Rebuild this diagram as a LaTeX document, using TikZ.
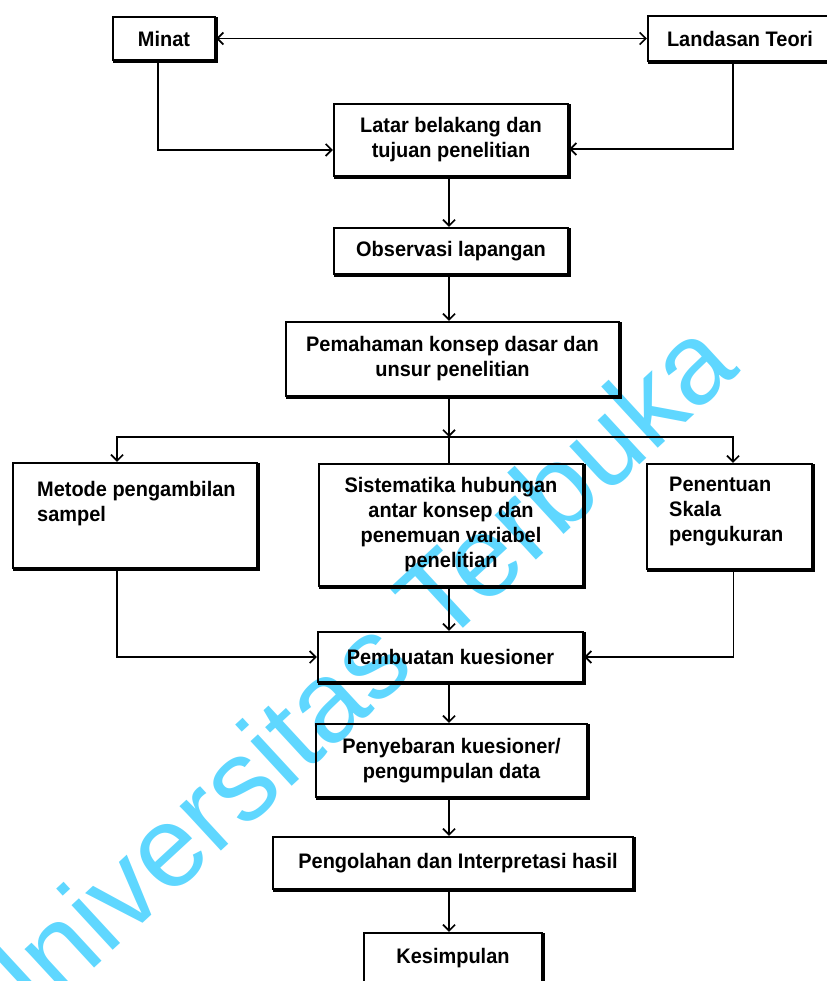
\documentclass[tikz,border=0pt]{standalone}
\usepackage{fontspec}
\setmainfont{Liberation Sans}
\newfontfamily\boxfont{Liberation Sans Bold}[FakeStretch=0.95]
\usetikzlibrary{arrows.meta}
\definecolor{wmblue}{RGB}{95,215,255}

\begin{document}
\begin{tikzpicture}[x=1pt,y=-1pt,
  box/.style={draw, line width=2.2pt, inner sep=0pt, align=center,
    font=\boxfont\fontsize{21}{25}\selectfont},
  txt/.style={inner sep=0pt, align=left, font=\boxfont\fontsize{21}{25}\selectfont},
  edge/.style={draw, line width=1.7pt},
  arr/.style={edge, -{Straight Barb[length=6pt,width=12pt,line width=1.7pt]}},
  dbl/.style={edge, {Straight Barb[length=6pt,width=12pt,line width=1.7pt]}-{Straight Barb[length=6pt,width=12pt,line width=1.7pt]}},
  shade/.style={line width=2pt}
]
\useasboundingbox (0,0) rectangle (826,981);

% watermark behind the chart
\node[font=\fontsize{115}{115}\selectfont, text=wmblue, rotate=42.7, anchor=base, inner sep=0pt]
  (wm) at (371,713) {Universitas Terbuka};

% boxes
\node[box, minimum width=102pt, minimum height=43pt] (minat) at (164,38.5) {Minat};
\node[box, minimum width=190pt, minimum height=45pt] (landasan) at (743,38.5) {\hspace*{-6pt}Landasan Teori};
\node[box, minimum width=234pt, minimum height=72pt] (latar) at (451,140) {Latar belakang dan\\tujuan penelitian};
\node[box, minimum width=234pt, minimum height=46pt] (obs) at (451,251) {Observasi lapangan};
\node[box, minimum width=333pt, minimum height=74pt] (paham) at (452.5,359) {Pemahaman konsep dasar dan\\unsur penelitian};
\node[box, minimum width=244pt, minimum height=105pt] (metode) at (135,515.5) {};
\node[txt, anchor=north west] (metodeT) at (37,481) {Metode pengambilan\\sampel};
\node[box, minimum width=264pt, minimum height=122pt] (sist) at (451,525) {Sistematika hubungan\\antar konsep dan\\penemuan variabel\\penelitian};
\node[box, minimum width=165pt, minimum height=105pt] (tentu) at (729.5,516.5) {};
\node[txt, anchor=north west] (tentuT) at (669,477) {Penentuan\\Skala\\pengukuran};
\node[box, minimum width=265pt, minimum height=50pt] (buat) at (450.5,657) {Pembuatan kuesioner};
\node[box, minimum width=271pt, minimum height=73pt] (sebar) at (451.5,760.5) {Penyebaran kuesioner/\\pengumpulan data};
\node[box, minimum width=360pt, minimum height=52pt] (olah) at (453,863) {\hspace*{10pt}Pengolahan dan Interpretasi hasil};
\node[box, minimum width=178pt, minimum height=50pt] (simpul) at (453,958) {Kesimpulan};

% heavier lower and right edges of every box
\foreach \n in {minat,landasan,latar,obs,paham,metode,sist,tentu,buat,sebar,olah,simpul}
  \draw[shade] ([shift={(1.2pt,-1.2pt)}]\n.south west) -- ([shift={(1.2pt,-1.2pt)}]\n.south east)
               -- ([shift={(1.2pt,-1.2pt)}]\n.north east);

% connectors
\draw[dbl] (minat.east) -- (landasan.west);
\draw[arr] ([xshift=-6pt]minat.south) |- ([yshift=-10pt]latar.west);
\draw[arr] ([xshift=-10pt]landasan.south) |- ([yshift=-9pt]latar.east);
\draw[arr] ([xshift=-2pt]latar.south) -- ([xshift=-2pt]obs.north);
\draw[arr] ([xshift=-2pt]obs.south) -- ([xshift=-3.5pt]paham.north);
\coordinate (j) at (449,437);
\draw[arr] ([xshift=-3.5pt]paham.south) -- (j);
\draw[edge] (j) -- (j |- sist.north);
\draw[arr] (j) -| ([xshift=-18pt]metode.north);
\draw[arr] (j) -| ([xshift=3.5pt]tentu.north);
\draw[arr] ([xshift=-18pt]metode.south) |- (buat.west);
\draw[arr] ([xshift=4pt]tentu.south) |- (buat.east);
\draw[arr] (j |- sist.south) -- (j |- buat.north);
\draw[arr] (j |- buat.south) -- (j |- sebar.north);
\draw[arr] (j |- sebar.south) -- (j |- olah.north);
\draw[arr] (j |- olah.south) -- (j |- simpul.north);
\end{tikzpicture}
\end{document}
